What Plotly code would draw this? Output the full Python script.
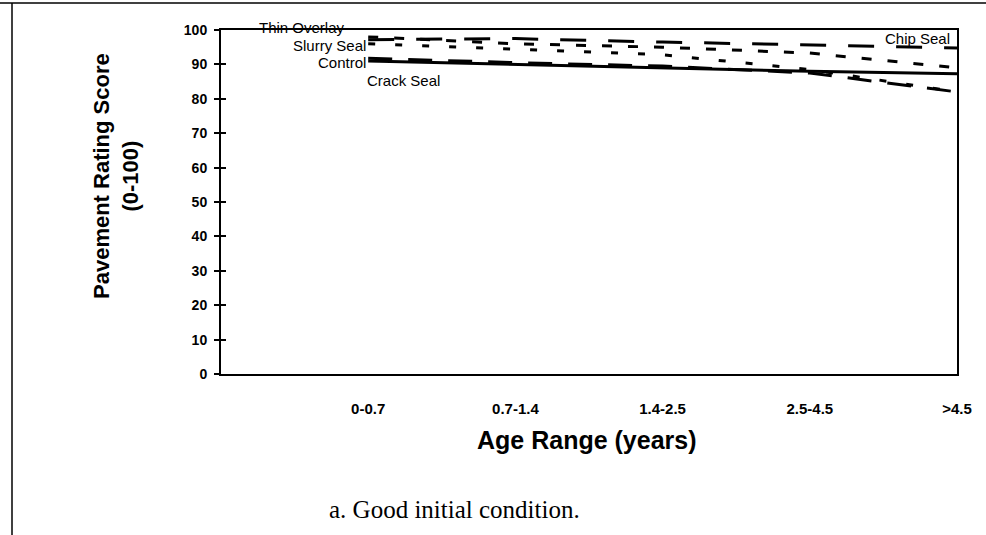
import plotly.graph_objects as go

# age ranges (x categories) and rating scores
age_ranges = ["0-0.7", "0.7-1.4", "1.4-2.5", "2.5-4.5", ">4.5"]
x_pos = [1, 2, 3, 4, 5]

thin_overlay = [98, 96, 95, 93.3, 89]
chip_seal = [97.2, 97.5, 96.5, 95.6, 94.8]
slurry_seal = [96, 94.5, 92.8, 88.5, 82]
control = [91, 90, 89, 88, 87.3]
crack_seal = [91.8, 90.5, 89.5, 87.5, 82]

y_ticks = [0, 10, 20, 30, 40, 50, 60, 70, 80, 90, 100]

W, H = 986, 535
L, R, T, B = 221, 29, 30, 161
pw, ph = W - L - R, H - T - B


def px(x):
    return (x - L) / pw


def py(y):
    return (H - B - y) / ph


fig = go.Figure()

series = [
    ("Chip Seal", chip_seal, "26px,22px"),
    ("Thin Overlay", thin_overlay, "10px,16px"),
    ("Slurry Seal", slurry_seal, "7px,20px"),
    ("Crack Seal", crack_seal, "24px,16px"),
    ("Control", control, "solid"),
]
for name, vals, dash in series:
    fig.add_trace(go.Scatter(x=x_pos, y=vals, name=name, mode="lines",
                             line=dict(color="black", width=3, dash=dash)))

# invisible trace on the overlay axis so the inside ticks are drawn
fig.add_trace(go.Scatter(x=[1], y=[0], yaxis="y2", mode="none", showlegend=False,
                         hoverinfo="skip"))

font = "Liberation Sans"
fig.update_layout(
    width=W, height=H,
    margin=dict(l=L, r=R, t=T, b=B),
    paper_bgcolor="white", plot_bgcolor="white",
    showlegend=False,
    font=dict(family=font, color="black"),
    xaxis=dict(range=[0, 5], tickvals=x_pos, ticktext=age_ranges,
               showgrid=False, zeroline=False, showline=True, linecolor="black",
               linewidth=2, mirror=True, ticks="", ticklabelstandoff=20,
               tickfont=dict(family=font, size=15, weight="bold")),
    yaxis=dict(range=[0, 100], tickvals=y_ticks, showgrid=False, zeroline=False,
               showline=True, linecolor="black", linewidth=2, mirror=True,
               ticks="outside", ticklen=5, tickwidth=1.5, tickcolor="black",
               ticklabelstandoff=4,
               tickfont=dict(family=font, size=14, weight="bold")),
    yaxis2=dict(range=[0, 100], tickvals=y_ticks, overlaying="y", side="left",
                showgrid=False, zeroline=False, showticklabels=False,
                ticks="inside", ticklen=5, tickwidth=1.5, tickcolor="black"),
)

labels = [
    ("Thin Overlay", 347, 28),
    ("Slurry Seal", 368, 46),
    ("Control", 368, 63),
]
for text, x, y in labels:
    fig.add_annotation(text=text, xref="paper", yref="paper", x=px(x), y=py(y),
                       xanchor="right", yanchor="middle", showarrow=False,
                       font=dict(family=font, size=15))
fig.add_annotation(text="Crack Seal", xref="paper", yref="paper", x=px(365), y=py(80),
                   xanchor="left", yanchor="middle", showarrow=False,
                   font=dict(family=font, size=15))
fig.add_annotation(text="Chip Seal", xref="paper", yref="paper", x=px(952), y=py(38),
                   xanchor="right", yanchor="middle", showarrow=False,
                   font=dict(family=font, size=15))

fig.add_annotation(text="Pavement Rating Score<br>(0-100)", xref="paper", yref="paper",
                   x=px(116), y=py(176), textangle=-90, showarrow=False,
                   xanchor="center", yanchor="middle",
                   font=dict(family=font, size=22, weight="bold"))
fig.add_annotation(text="Age Range (years)", xref="paper", yref="paper",
                   x=px(587), y=py(440), showarrow=False,
                   xanchor="center", yanchor="middle",
                   font=dict(family=font, size=25, weight="bold"))
fig.add_annotation(text="a. Good initial condition.", xref="paper", yref="paper",
                   x=px(454), y=py(509), showarrow=False,
                   xanchor="center", yanchor="middle",
                   font=dict(family="Liberation Serif", size=25))

# page frame: top rule and left rule
fig.add_shape(type="line", xref="paper", yref="paper", x0=px(0), x1=px(986),
              y0=py(3), y1=py(3), line=dict(color="black", width=1.5))
fig.add_shape(type="line", xref="paper", yref="paper", x0=px(12), x1=px(12),
              y0=py(3), y1=py(535), line=dict(color="black", width=1.5))

# drop the browser's default 8px body margin so the figure sits at the page corner
fig.write_html("out.html", config={"displayModeBar": False},
               post_script="document.body.style.margin='0px';")
